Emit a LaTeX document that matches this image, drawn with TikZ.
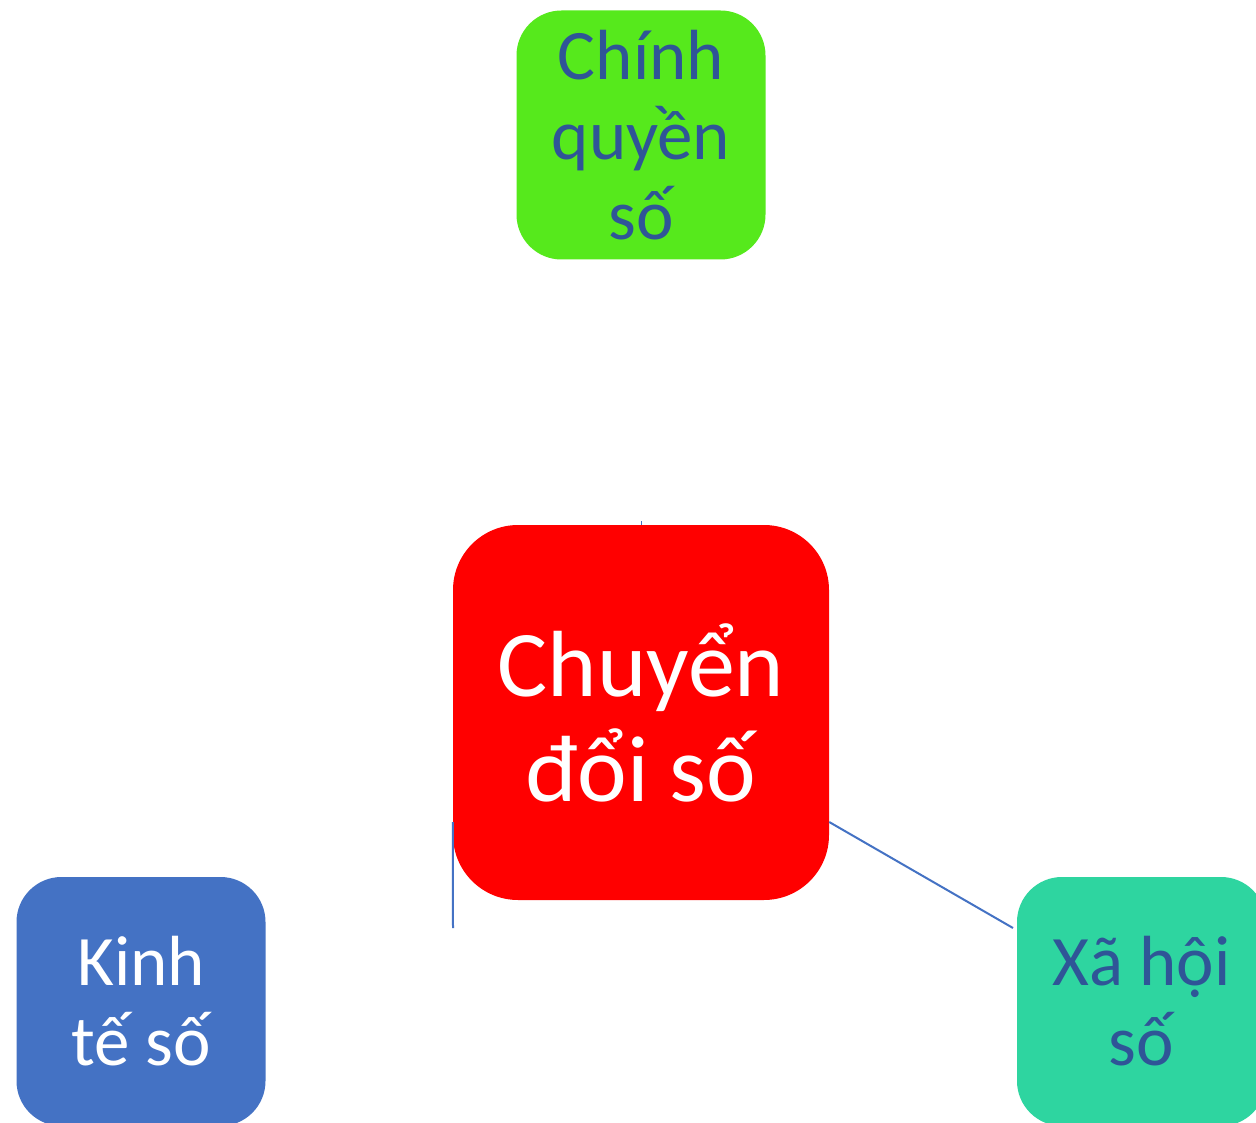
\documentclass[tikz,border=0pt]{standalone}
\usepackage{fontspec}
\setmainfont{Carlito}
\definecolor{cgreen}{RGB}{86,233,28}
\definecolor{cteal}{RGB}{46,213,160}
\definecolor{cblue}{RGB}{68,114,196}
\definecolor{cred}{RGB}{255,0,0}
\definecolor{ctext}{RGB}{47,85,151}
\tikzset{
  box/.style={rectangle, rounded corners=45pt, minimum width=249pt, minimum height=249pt, inner sep=0pt, align=center, font=\fontsize{71}{80}\selectfont},
  bigbox/.style={rectangle, rounded corners=65pt, minimum width=376pt, minimum height=375pt, inner sep=0pt, align=center, font=\fontsize{94}{105}\selectfont, fill=cred, text=white},
  link/.style={draw=cblue, line width=2pt}
}
\begin{document}
\begin{tikzpicture}[x=1pt,y=-1pt]
\clip (0,0) rectangle (1256,1123);
\fill[white] (0,0) rectangle (1256,1123);
\node[box, fill=cgreen, text=ctext] (top) at (641,135) {Chính\\quyền\\số};
\node[bigbox] (center) at (641,712.5) {Chuyển\\đổi số};
\node[box, fill=cblue, text=white] (kinh) at (141,1001.5) {Kinh\\tế số};
\node[box, fill=cteal, text=ctext] (xahoi) at (1141.5,1001.5) {Xã hội\\số};
\coordinate (xend) at (1013,928);
\coordinate (vend) at (453,928);
\coordinate (tick) at (641,521);
\draw[link] ([yshift=-109.5pt]center.east) -- (xend);
\draw[link] ([yshift=-109.5pt]center.west) -- (vend);
\draw[draw=cblue, line width=0.8pt] (center.north) -- (tick);
\end{tikzpicture}
\end{document}
